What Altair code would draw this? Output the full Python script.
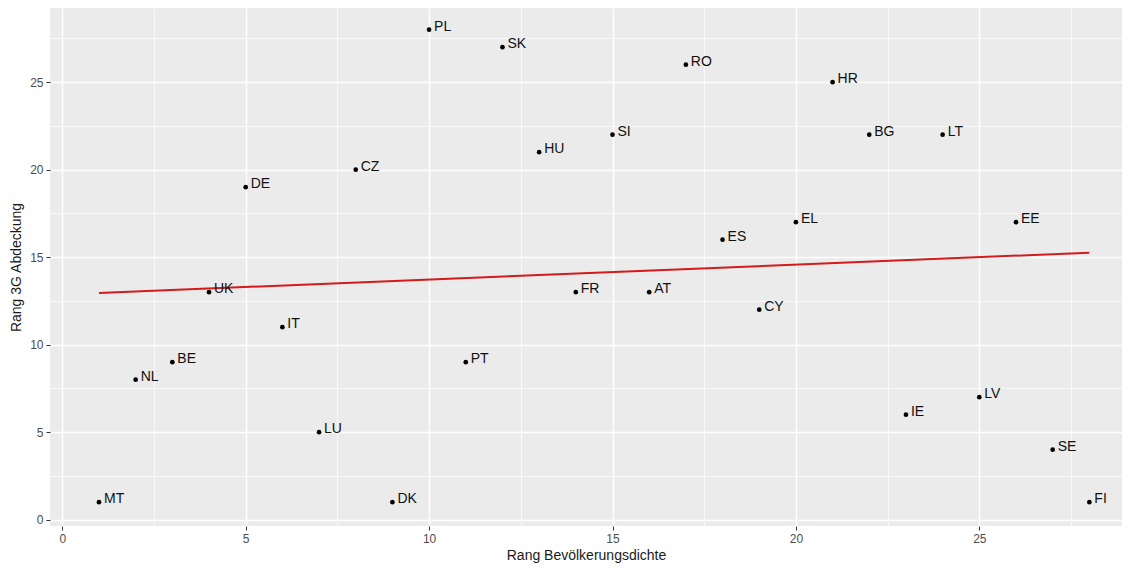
import altair as alt
import pandas as pd

countries = ["MT", "NL", "BE", "UK", "DE", "IT", "LU", "CZ", "DK", "PL", "PT", "SK", "HU", "FR",
             "SI", "AT", "RO", "ES", "CY", "EL", "HR", "BG", "IE", "LT", "LV", "EE", "SE", "FI"]
rang_dichte = [1, 2, 3, 4, 5, 6, 7, 8, 9, 10, 11, 12, 13, 14,
               15, 16, 17, 18, 19, 20, 21, 22, 23, 24, 25, 26, 27, 28]
rang_3g = [1, 8, 9, 13, 19, 11, 5, 20, 1, 28, 9, 27, 21, 13,
           22, 13, 26, 16, 12, 17, 25, 22, 6, 22, 7, 17, 4, 1]
major_ticks = [0, 5, 10, 15, 20, 25]
minor_ticks = [2.5, 7.5, 12.5, 17.5, 22.5, 27.5]

df = pd.DataFrame({"land": countries, "x": rang_dichte, "y": rang_3g})

FONT = "Liberation Sans"
xscale = alt.Scale(domain=[-0.335, 28.89], nice=False, zero=False)
yscale = alt.Scale(domain=[-0.36, 29.24], nice=False, zero=False)

base = alt.Chart(df)

minor = base.mark_point(opacity=0).encode(
    x=alt.X("x:Q", scale=xscale, axis=alt.Axis(orient="top", values=minor_ticks, labels=False,
            ticks=False, domain=False, title=None, grid=True, gridColor="white", gridWidth=0.7)),
    y=alt.Y("y:Q", scale=yscale, axis=alt.Axis(orient="right", values=minor_ticks, labels=False,
            ticks=False, domain=False, title=None, grid=True, gridColor="white", gridWidth=0.7)),
)

points = base.mark_circle(size=22, color="black", opacity=1).encode(
    x=alt.X("x:Q", scale=xscale, axis=alt.Axis(
        values=major_ticks, title="Rang Bevölkerungsdichte", grid=True, gridColor="white",
        gridWidth=1.4, domain=False, tickColor="#333333", tickSize=4, labelColor="#4D4D4D",
        labelFontSize=12, labelFont=FONT, labelPadding=3, titleFont=FONT, titleFontSize=14,
        titleFontWeight="normal", titleColor="#1a1a1a", titlePadding=4)),
    y=alt.Y("y:Q", scale=yscale, axis=alt.Axis(
        values=major_ticks, title="Rang 3G Abdeckung", grid=True, gridColor="white",
        gridWidth=1.4, domain=False, tickColor="#333333", tickSize=4, labelColor="#4D4D4D",
        labelFontSize=12, labelFont=FONT, labelPadding=3, titleFont=FONT, titleFontSize=14,
        titleFontWeight="normal", titleColor="#1a1a1a", titlePadding=6)),
)

labels = base.mark_text(align="left", baseline="middle", dx=5, dy=-3, fontSize=14,
                        font=FONT, color="#111111").encode(
    x=alt.X("x:Q", scale=xscale, axis=None), y=alt.Y("y:Q", scale=yscale, axis=None), text="land:N")

reg = base.transform_regression("x", "y").mark_line(color="#d41a1a", strokeWidth=2).encode(
    x=alt.X("x:Q", scale=xscale, axis=None), y=alt.Y("y:Q", scale=yscale, axis=None))

chart = alt.layer(minor, points, reg, labels).resolve_axis(x="independent", y="independent").properties(
    width=1072, height=518,
    autosize=alt.AutoSizeParams(type="none"),
    padding={"left": 42, "top": 0, "right": 0, "bottom": 42},
).configure_view(fill="#EBEBEB", stroke=None)

chart.save("out.html", embed_options={"renderer": "svg", "actions": False})
